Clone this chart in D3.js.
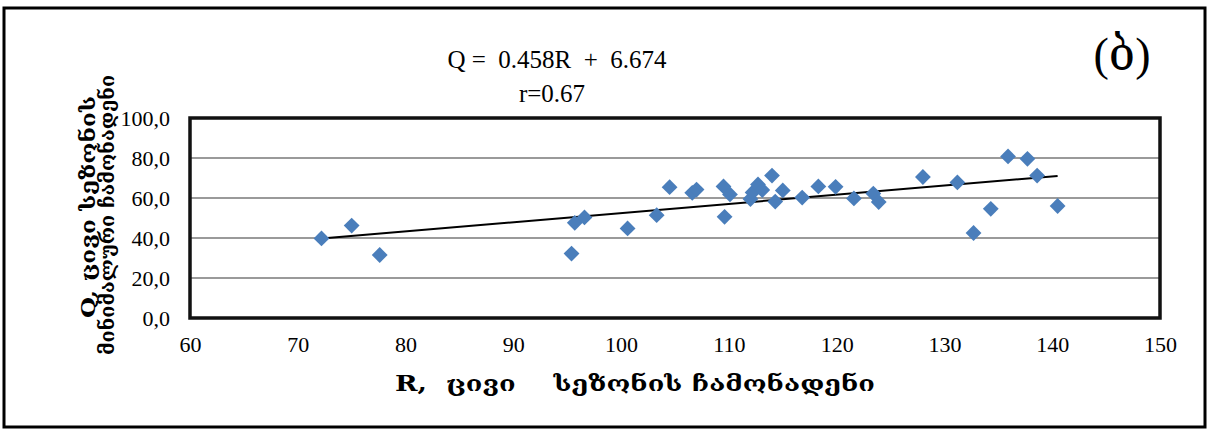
<!DOCTYPE html>
<html>
<head>
<meta charset="utf-8">
<script src="https://cdn.jsdelivr.net/npm/d3@7"></script>
<style>
  body { margin: 0; background: #fff; }
  svg text { font-family: "Liberation Serif", "DejaVu Serif", serif; }
</style>
</head>
<body>
<div id="plot"></div>
<script>
// Data (R = cold season runoff, Q = minimal runoff).
var r_values = [72.2, 75.0, 77.6, 95.4, 95.7, 96.6, 100.6, 103.3, 104.5, 106.6,
                107.0, 109.5, 109.6, 110.1, 112.0, 112.2, 112.7, 113.1, 114.0, 114.3,
                115.0, 116.8, 118.3, 119.9, 121.6, 123.4, 123.9, 128.0, 131.2, 132.7,
                134.3, 135.9, 137.7, 138.6, 140.5];
var q_values = [39.8, 46.2, 31.5, 32.2, 47.6, 50.3, 44.8, 51.4, 65.4, 62.6,
                64.2, 65.8, 50.6, 61.8, 59.5, 62.8, 66.8, 64.0, 71.2, 58.2,
                63.8, 60.2, 65.8, 65.6, 59.8, 62.2, 58.0, 70.5, 67.8, 42.5,
                54.6, 80.8, 79.6, 71.2, 56.0];
var x_ticks = [60, 70, 80, 90, 100, 110, 120, 130, 140, 150];
var y_ticks = [0, 20, 40, 60, 80, 100];
// Regression line as printed on the chart.
var trend_slope = 0.458;
var trend_intercept = 6.674;
var equation_text = "Q =  0.458R  +  6.674";
var corr_text = "r=0.67";
var panel_label = "(ბ)";
var x_title = "R,  ცივი    სეზონის ჩამონადენი";
var y_title = ["Q, ცივი სეზონის", "მინიმალური ჩამონადენი"];

var width = 1210, height = 432;
var plot = {left: 190, right: 1160, top: 118, bottom: 318};

var svg = d3.select("div#plot").append("svg")
    .attr("width", width)
    .attr("height", height)
    .attr("viewBox", "0 0 " + width + " " + height);

// Outer frame.
svg.append("rect")
    .attr("x", 4).attr("y", 8)
    .attr("width", 1201).attr("height", 419)
    .attr("fill", "none")
    .attr("stroke", "#000")
    .attr("stroke-width", 3);

var x_scale = d3.scaleLinear().domain([60, 150]).range([plot.left, plot.right]);
var y_scale = d3.scaleLinear().domain([0, 100]).range([plot.bottom, plot.top]);

// Horizontal gridlines.
svg.append("g").attr("id", "grid")
    .selectAll("line")
    .data(y_ticks.filter(d => d > 0 && d < 100))
    .join("line")
        .attr("x1", x_scale(60)).attr("x2", x_scale(150))
        .attr("y1", d => y_scale(d)).attr("y2", d => y_scale(d))
        .style("stroke", "#9a9a9a")
        .style("stroke-width", 2);

// Plot area border.
svg.append("rect")
    .attr("x", x_scale(60)).attr("y", y_scale(100))
    .attr("width", x_scale(150) - x_scale(60))
    .attr("height", y_scale(0) - y_scale(100))
    .attr("fill", "none")
    .attr("stroke", "#111")
    .attr("stroke-width", 3.5);

// Axes (labels only).
var y_axis = d3.axisLeft(y_scale)
    .tickValues(y_ticks)
    .tickSize(0)
    .tickPadding(20)
    .tickFormat(d => d3.format(".1f")(d).replace(".", ","));
var g_y_axis = svg.append("g")
    .attr("id", "y_axis")
    .attr("transform", "translate(" + plot.left + ", 0)")
    .call(y_axis);

var x_axis = d3.axisBottom(x_scale)
    .tickValues(x_ticks)
    .tickSize(0)
    .tickPadding(18)
    .tickFormat(d3.format("d"));
var g_x_axis = svg.append("g")
    .attr("id", "x_axis")
    .attr("transform", "translate(0, " + plot.bottom + ")")
    .call(x_axis);

[g_x_axis, g_y_axis].forEach(function(g) {
    g.select(".domain").remove();
    g.selectAll("text")
        .style("font-family", "'Liberation Serif', serif")
        .style("font-size", "22px")
        .style("fill", "#000");
});

// Trend line.
var r_min = d3.min(r_values), r_max = d3.max(r_values);
svg.append("line")
    .attr("x1", x_scale(r_min)).attr("y1", y_scale(trend_slope * r_min + trend_intercept))
    .attr("x2", x_scale(r_max)).attr("y2", y_scale(trend_slope * r_max + trend_intercept))
    .style("stroke", "#000")
    .style("stroke-width", 2);

// Diamond markers.
var points = d3.range(r_values.length).map(i => ({r: r_values[i], q: q_values[i]}));
var diamond = d3.symbol().type(d3.symbolSquare).size(125);
svg.append("g").attr("id", "points")
    .selectAll("path")
    .data(points)
    .join("path")
        .attr("d", diamond)
        .attr("transform", d => "translate(" + x_scale(d.r) + "," + y_scale(d.q) + ") rotate(45)")
        .style("fill", "#4a7ebb");

// Texts.
svg.append("text")
    .attr("x", 557).attr("y", 68)
    .attr("text-anchor", "middle")
    .style("white-space", "pre")
    .style("font-size", "25px")
    .text(equation_text);

svg.append("text")
    .attr("x", 552).attr("y", 102)
    .attr("text-anchor", "middle")
    .style("font-size", "25px")
    .text(corr_text);

svg.append("text")
    .attr("x", 1122).attr("y", 70)
    .attr("text-anchor", "middle")
    .style("font-size", "46px")
    .text(panel_label);

svg.append("text")
    .attr("x", 635).attr("y", 391)
    .attr("text-anchor", "middle")
    .attr("textLength", 480)
    .attr("lengthAdjust", "spacingAndGlyphs")
    .style("white-space", "pre")
    .style("font-family", "'DejaVu Serif', serif")
    .style("font-weight", "bold")
    .style("font-size", "22px")
    .text(x_title);

var y_title_len = [222, 280];
var y_title_center = [207, 215];
svg.append("g")
    .attr("transform", "translate(95, 0) rotate(-90)")
    .selectAll("text")
    .data(y_title)
    .join("text")
        .attr("x", (d, i) => -y_title_center[i])
        .attr("y", (d, i) => i * 19)
        .attr("text-anchor", "middle")
        .attr("textLength", (d, i) => y_title_len[i])
        .attr("lengthAdjust", "spacingAndGlyphs")
        .style("font-family", "'DejaVu Serif', serif")
        .style("font-weight", "bold")
        .style("font-size", "19px")
        .text(d => d);
</script>
</body>
</html>
